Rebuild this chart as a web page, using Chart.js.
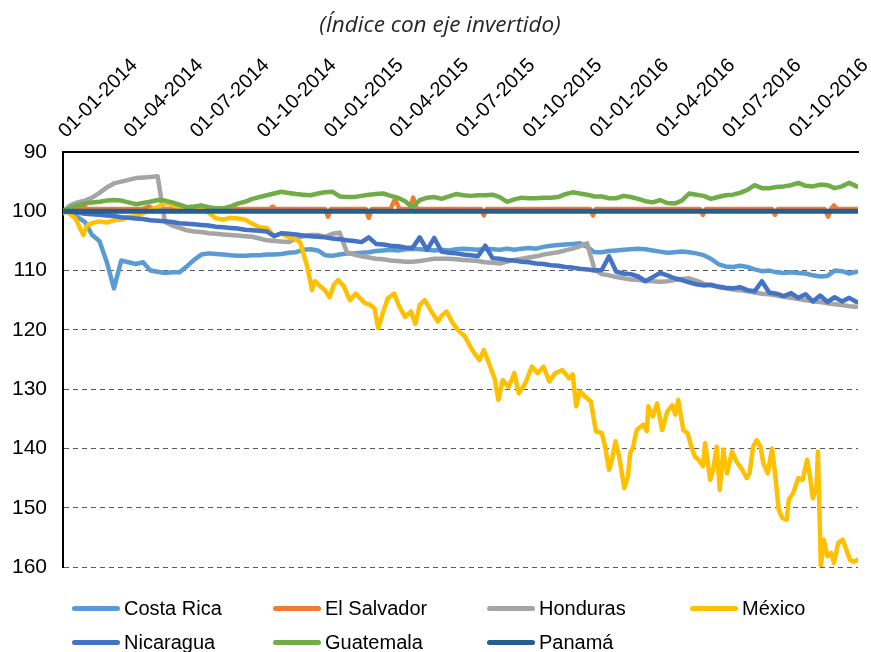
<!DOCTYPE html>
<html>
<head>
<meta charset="utf-8">
<script src="https://cdn.jsdelivr.net/npm/chart.js@4.4.1/dist/chart.umd.min.js"></script>
<style>
  body { margin: 0; background: #fff; }
  #wrap { position: relative; width: 871px; height: 652px; }
  #title { position: absolute; left: 0; width: 880px; top: 8px; text-align: center;
           font-family: "Open Sans", sans-serif; font-style: italic; font-size: 22.5px; color: #262626; }
  #legend { position: absolute; left: 0; top: 0; width: 871px; height: 652px; pointer-events: none;
            font-family: "Liberation Sans", Arial, sans-serif; font-size: 20px; color: #000; }
  .item { position: absolute; display: flex; align-items: center; white-space: nowrap; height: 24px; }
  .sw { width: 48px; height: 5px; border-radius: 3px; margin-right: 4px; }
</style>
</head>
<body>
<div id="wrap">
  <canvas id="c" width="871" height="652"></canvas>
  <div id="title">(Índice con eje invertido)</div>
  <div id="legend"></div>
</div>
<script>
// ---- categories (days since 01-01-2014) ----
const days = [0,10,20,30,40,50,60,70,80,90,100,110,120,130,140,150,160,170,180,190,200,210,220,230,240,250,260,270,280,290,300,310,320,330,340,350,360,370,380,390,400,410,420,430,440,450,460,470,480,490,500,510,520,530,540,550,560,570,580,590,600,610,620,630,640,650,660,670,680,690,700,710,720,730,740,750,760,770,780,790,800,810,820,830,840,850,860,870,880,890,900,910,920,930,940,950,960,970,980,990,1000,1010,1020,1030,1040,1050,1060,1070,1080,1090];

const quarterDays = [0,90,181,273,365,455,546,638,730,821,912,1004];
const quarterLabels = ['01-01-2014','01-04-2014','01-07-2014','01-10-2014','01-01-2015','01-04-2015','01-07-2015','01-10-2015','01-01-2016','01-04-2016','01-07-2016','01-10-2016'];

// ---- series values ----
const costaRica = [100.0,100.3,101.0,101.8,104.0,105.0,108.5,113.0,108.3,108.6,108.9,108.6,110.0,110.2,110.4,110.3,110.3,109.3,108.2,107.3,107.1,107.2,107.3,107.4,107.5,107.5,107.4,107.4,107.3,107.3,107.2,107.0,106.9,106.5,106.4,106.6,107.4,107.5,107.3,107.1,107.1,107.0,106.9,106.7,106.6,106.5,106.6,106.4,106.3,106.4,106.5,106.6,106.5,106.6,106.4,106.3,106.4,106.5,106.3,106.4,106.5,106.3,106.5,106.3,106.2,106.3,106.0,105.8,105.7,105.6,105.5,105.4,106.0,106.9,106.9,106.7,106.6,106.5,106.4,106.3,106.4,106.6,106.8,107.0,106.9,106.8,106.9,107.1,107.4,108.0,108.9,109.3,109.4,109.2,109.4,109.8,110.1,110.0,110.3,110.4,110.3,110.4,110.5,110.8,111.0,110.9,110.0,110.1,110.5,110.2];

const honduras = [100.0,99.0,98.5,98.2,97.7,96.9,96.0,95.3,95.0,94.7,94.4,94.3,94.2,94.1,101.8,102.4,102.8,103.2,103.4,103.5,103.7,103.8,103.9,104.0,104.1,104.2,104.3,104.6,104.9,105.0,105.1,105.2,104.6,104.2,104.0,104.0,104.3,103.8,103.6,106.9,107.3,107.6,107.8,108.0,108.1,108.3,108.4,108.5,108.5,108.4,108.2,108.0,108.0,108.0,108.1,108.2,108.3,108.4,108.6,108.7,108.8,108.5,108.2,108.0,107.8,107.6,107.3,107.1,106.9,106.6,106.3,105.9,105.4,109.8,110.6,110.8,111.1,111.3,111.5,111.6,111.7,111.8,111.9,111.8,111.6,111.4,111.3,111.7,112.2,112.5,112.8,113.0,113.2,113.3,113.5,113.7,113.9,114.0,114.2,114.4,114.6,114.8,115.0,115.2,115.3,115.5,115.7,115.8,116.0,116.1];

const nicaragua = [100.0,100.1,100.2,100.4,100.5,100.6,100.7,100.8,101.0,101.1,101.2,101.3,101.5,101.6,101.7,101.8,102.0,102.1,102.2,102.3,102.4,102.6,102.7,102.8,102.9,103.1,103.2,103.3,103.4,104.2,103.7,103.8,103.9,104.1,104.2,104.3,104.4,104.6,104.7,104.9,105.0,105.2,104.4,105.5,105.6,105.8,105.9,106.1,106.2,104.4,106.5,104.5,106.8,107.0,107.1,107.3,107.4,107.6,105.8,107.9,108.0,108.2,108.3,108.5,108.6,108.8,108.9,109.1,109.2,109.4,109.5,109.7,109.8,110.0,109.9,107.6,110.2,110.5,110.6,111.0,111.8,111.1,110.4,110.8,111.3,111.6,112.0,112.3,112.5,112.4,112.7,112.9,113.0,112.8,113.3,113.5,111.8,113.7,113.9,114.3,113.8,114.6,114.0,115.2,114.2,115.3,114.5,115.2,114.6,115.3];

const guatemala = [100.0,99.4,99.0,98.7,98.5,98.4,98.2,98.1,98.2,98.5,98.8,98.6,98.4,98.1,98.2,98.5,98.9,99.3,99.2,99.0,99.3,99.5,99.5,99.2,98.7,98.4,97.9,97.6,97.3,97.0,96.7,96.9,97.1,97.2,97.3,97.0,96.8,96.7,97.5,97.6,97.6,97.4,97.2,97.1,97.0,97.4,97.7,98.3,99.3,98.1,97.7,97.6,97.9,97.5,97.1,97.3,97.4,97.3,97.3,97.2,97.6,98.4,98.0,97.7,97.8,97.8,97.7,97.7,97.6,97.1,96.8,97.0,97.2,97.5,97.5,97.8,97.8,97.4,97.6,97.9,98.3,98.5,98.1,98.6,98.7,98.2,97.0,97.2,97.4,97.9,97.6,97.3,97.2,96.9,96.4,95.6,96.1,96.1,95.9,95.8,95.6,95.2,95.7,95.8,95.5,95.6,96.1,95.8,95.2,95.8];

const elSalvadorDays = [0,6,24,28,32,110,118,124,284,288,292,360,364,368,416,420,424,450,456,462,476,481,486,574,578,582,724,728,732,875,879,883,974,978,982,1046,1051,1055,1059,1063,1092];
const elSalvador = [100,99.6,99.6,98.9,99.6,99.6,99.2,99.6,99.6,99.2,99.6,99.6,100.9,99.6,99.6,101.1,99.6,99.6,97.9,99.6,99.6,97.7,99.6,99.6,100.7,99.6,99.6,100.7,99.6,99.6,100.6,99.6,99.6,100.6,99.6,99.6,100.9,99.6,99.0,99.6,99.6];

const mexicoDays = [0,5,10,17,24,28,33,40,50,60,70,80,90,100,110,120,130,142,150,160,170,180,190,200,210,220,230,240,250,260,270,280,290,300,310,320,326,330,336,342,346,352,360,366,372,378,386,394,402,414,422,428,433,441,446,455,462,470,478,484,490,497,506,515,520,527,534,542,552,562,572,578,585,593,598,604,612,620,626,635,644,652,660,668,676,686,695,700,705,710,717,725,732,740,745,750,754,759,764,771,776,779,783,788,797,802,804,810,816,823,830,837,841,845,852,858,863,868,873,879,882,889,893,898,902,907,912,919,925,933,939,943,948,953,958,962,968,974,978,983,988,994,997,1003,1010,1016,1022,1026,1030,1035,1037,1041,1045,1050,1055,1059,1065,1071,1076,1081,1086,1092];
const mexico = [100.3,100.0,100.5,101.2,103.0,104.0,102.4,102.0,101.7,101.9,101.5,101.4,101.0,100.8,100.3,99.8,99.3,98.5,99.0,99.4,99.9,99.7,99.5,100.2,101.2,101.4,101.1,101.2,101.4,102.1,102.7,102.8,104.2,103.7,104.4,104.7,105.3,107.0,109.6,113.3,111.8,112.5,113.3,114.5,112.4,111.6,112.7,115.0,113.9,115.4,115.8,116.4,119.7,116.5,114.7,113.9,116.1,117.8,116.9,119.0,115.8,115.0,116.9,118.6,117.6,116.9,118.6,120.0,121.1,123.4,125.1,123.4,125.6,128.3,131.8,128.5,129.6,127.3,130.7,129.0,126.2,127.3,126.2,128.7,127.3,126.8,128.2,127.5,132.9,130.4,131.2,132.1,137.1,137.4,139.9,143.6,141.9,138.8,141.4,146.7,144.7,140.8,139.8,136.9,136.0,137.1,132.9,134.6,132.4,136.9,133.8,132.7,134.3,131.8,136.9,137.4,139.7,141.4,141.9,143.0,139.1,145.3,143.6,139.7,147.0,140.2,144.2,140.5,142.2,143.6,145.0,144.2,139.7,138.6,139.7,142.5,144.2,140.0,144.2,150.3,151.7,152.0,148.6,147.5,145.0,145.3,141.9,144.7,148.4,146.5,140.5,160.0,155.4,158.2,157.6,159.3,155.9,155.4,157.1,158.8,159.1,158.8];

const panamaDays = [0, 1092];
const panama = [100, 100];

const yTicks = [90,100,110,120,130,140,150,160];

const seriesNames  = ['Costa Rica','El Salvador','Honduras','México','Nicaragua','Guatemala','Panamá'];
const seriesColors = ['#5B9BD5','#ED7D31','#A5A5A5','#FFC000','#4472C4','#70AD47','#255E91'];

// ---- build datasets ----
function pts(xs, ys) { return xs.map((x, i) => ({ x: x, y: ys[i] })); }
const seriesData = [
  pts(days, costaRica),
  pts(elSalvadorDays, elSalvador),
  pts(days, honduras),
  pts(mexicoDays, mexico),
  pts(days, nicaragua),
  pts(days, guatemala),
  pts(panamaDays, panama)
];
const widths = [4.5, 4.5, 4.5, 4.5, 4.5, 4.5, 5];

const datasets = seriesNames.map((name, i) => ({
  label: name,
  data: seriesData[i],
  borderColor: seriesColors[i],
  backgroundColor: seriesColors[i],
  borderWidth: widths[i],
  pointRadius: 0,
  tension: 0,
  fill: false,
  borderJoinStyle: 'round',
  borderCapStyle: 'round',
  order: seriesNames.length - i   // later series drawn on top, as in the original
}));

new Chart(document.getElementById('c'), {
  type: 'line',
  data: { datasets: datasets },
  options: {
    responsive: false,
    animation: false,
    devicePixelRatio: 1,
    layout: { padding: { top: 0, left: 0, right: 13, bottom: 85 } },
    plugins: { legend: { display: false }, tooltip: { enabled: false }, title: { display: false } },
    scales: {
      x: {
        type: 'linear', position: 'top', min: 0, max: 1092,
        afterBuildTicks: s => { s.ticks = quarterDays.map(v => ({ value: v })); },
        ticks: {
          autoSkip: false, minRotation: 45, maxRotation: 45, padding: 9, labelOffset: 16, color: '#000',
          font: { family: '"Liberation Sans", Arial, sans-serif', size: 20 },
          callback: (v, i) => quarterLabels[i]
        },
        grid: { display: false, drawTicks: false },
        border: { display: true, color: '#000', width: 2 },
        afterFit: s => { s.height = 152; s.paddingLeft = 0; s.paddingRight = 0; }
      },
      y: {
        reverse: true, min: 90, max: 160,
        afterBuildTicks: s => { s.ticks = yTicks.map(v => ({ value: v })); },
        ticks: { padding: 16, color: '#000', font: { family: '"Liberation Sans", Arial, sans-serif', size: 21 } },
        grid: { color: '#595959', lineWidth: 1, drawTicks: false },
        border: { display: true, color: '#000', width: 2, dash: [5, 4] },
        afterFit: s => { s.width = 63; s.paddingTop = 0; s.paddingBottom = 0; }
      }
    }
  }
});

// ---- legend (HTML, real text) ----
const legendPos = [[72,596],[273,596],[487,596],[690,596],[72,630],[273,630],[487,630]];
const lg = document.getElementById('legend');
seriesNames.forEach((name, i) => {
  const it = document.createElement('div');
  it.className = 'item';
  it.style.left = legendPos[i][0] + 'px';
  it.style.top = legendPos[i][1] + 'px';
  const sw = document.createElement('span');
  sw.className = 'sw';
  sw.style.background = seriesColors[i];
  const tx = document.createElement('span');
  tx.textContent = name;
  it.appendChild(sw); it.appendChild(tx);
  lg.appendChild(it);
});
</script>
</body>
</html>
